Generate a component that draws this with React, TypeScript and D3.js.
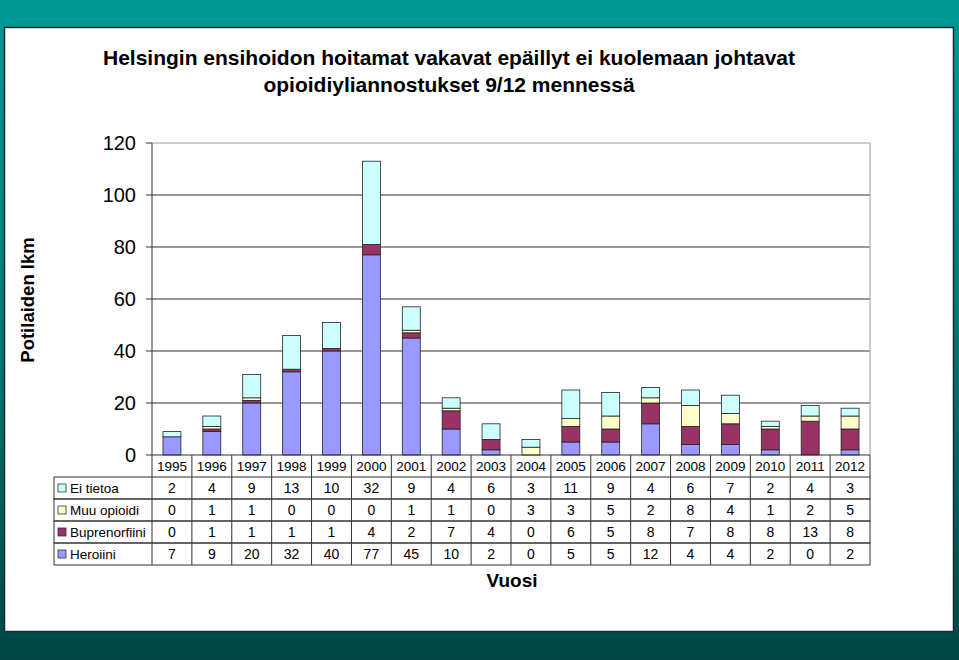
import React from "react";
import * as d3 from "d3";

const years = ["1995","1996","1997","1998","1999","2000","2001","2002","2003","2004","2005","2006","2007","2008","2009","2010","2011","2012"];
const heroiini = [7,9,20,32,40,77,45,10,2,0,5,5,12,4,4,2,0,2];
const buprenorfiini = [0,1,1,1,1,4,2,7,4,0,6,5,8,7,8,8,13,8];
const muuOpioidi = [0,1,1,0,0,0,1,1,0,3,3,5,2,8,4,1,2,5];
const eiTietoa = [2,4,9,13,10,32,9,4,6,3,11,9,4,6,7,2,4,3];
const yTicks = [0,20,40,60,80,100,120];

const seriesKeys = ["Heroiini","Buprenorfiini","Muu opioidi","Ei tietoa"];
const seriesValues: Record<string, number[]> = {
  "Heroiini": heroiini,
  "Buprenorfiini": buprenorfiini,
  "Muu opioidi": muuOpioidi,
  "Ei tietoa": eiTietoa,
};
const colors: Record<string, string> = {
  "Heroiini": "#9999ff",
  "Buprenorfiini": "#993366",
  "Muu opioidi": "#ffffcc",
  "Ei tietoa": "#ccffff",
};
const tableOrder = ["Ei tietoa","Muu opioidi","Buprenorfiini","Heroiini"];

export default function App() {
  const W = 959, H = 660;
  const left = 152, right = 870, top = 143, bottom = 455;
  const x = d3.scaleBand<string>().domain(years).range([left, right]).padding(0);
  const y = d3.scaleLinear().domain([0, 120]).range([bottom, top]);
  const rows = years.map((yr, i) => {
    const r: any = { year: yr };
    seriesKeys.forEach(k => (r[k] = seriesValues[k][i]));
    return r;
  });
  const stacked = d3.stack<any>().keys(seriesKeys)(rows);
  const bw = x.bandwidth() * 0.45;
  const font = "Liberation Sans, Arial, sans-serif";
  const rowH = 22;
  const headerTop = bottom;
  const tableTop = bottom + rowH;
  const tableLeft = 54;

  return (
    <div style={{ position: "absolute", left: 0, top: 0 }}>
      <svg width={W} height={H} style={{ display: "block" }} fontFamily={font}>
        <defs>
          <linearGradient id="bg" x1="0" y1="0" x2="0" y2="1">
            <stop offset="0" stopColor="#009a96" />
            <stop offset="0.5" stopColor="#007a77" />
            <stop offset="1" stopColor="#004646" />
          </linearGradient>
        </defs>
        <rect x={0} y={0} width={W} height={H} fill="url(#bg)" />
        <rect x={4.5} y={27.5} width={949} height={604} fill="#ffffff" stroke="#1a2a2a" strokeWidth={1.5} />

        <text x={449} y={65} textAnchor="middle" fontSize={21} fontWeight="bold">Helsingin ensihoidon hoitamat vakavat epäillyt ei kuolemaan johtavat</text>
        <text x={449} y={92} textAnchor="middle" fontSize={21} fontWeight="bold">opioidiyliannostukset 9/12 mennessä</text>

        {/* gridlines */}
        {yTicks.filter(t => t > 0).map(t => (
          <line key={t} x1={left} x2={right} y1={y(t)} y2={y(t)} stroke={t === 120 ? "#999" : "#333"} strokeWidth={1} />
        ))}
        <line x1={right} x2={right} y1={top} y2={bottom} stroke="#999" />

        {/* bars */}
        {stacked.map(s => (
          <g key={s.key}>
            {s.map((d, i) => {
              const h = y(d[0]) - y(d[1]);
              if (h <= 0) return null;
              return (
                <rect key={i} x={(x(years[i]) as number) + (x.bandwidth() - bw) / 2} y={y(d[1])} width={bw} height={h}
                  fill={colors[s.key]} stroke="#222" strokeWidth={0.8} />
              );
            })}
          </g>
        ))}

        {/* y axis */}
        <line x1={left} x2={left} y1={top} y2={bottom} stroke="#333" />
        <line x1={left} x2={right} y1={bottom} y2={bottom} stroke="#333" />
        {yTicks.map(t => (
          <g key={t}>
            <line x1={left - 6} x2={left} y1={y(t)} y2={y(t)} stroke="#333" />
            <text x={left - 16} y={y(t) + 7} textAnchor="end" fontSize={20}>{t}</text>
          </g>
        ))}
        <text transform={`translate(34,300) rotate(-90)`} textAnchor="middle" fontSize={18.5} fontWeight="bold">Potilaiden lkm</text>

        {/* table header (years) */}
        {years.map((yr, i) => (
          <g key={yr}>
            <line x1={x(yr) as number} x2={x(yr) as number} y1={headerTop} y2={tableTop} stroke="#333" />
            <text x={(x(yr) as number) + x.bandwidth() / 2} y={headerTop + 16} textAnchor="middle" fontSize={13.5}>{yr}</text>
          </g>
        ))}
        <line x1={right} x2={right} y1={headerTop} y2={tableTop} stroke="#333" />

        {/* table body */}
        {tableOrder.map((k, r) => {
          const ry = tableTop + r * rowH;
          return (
            <g key={k}>
              <rect x={tableLeft} y={ry} width={right - tableLeft} height={rowH} fill="none" stroke="#333" />
              <rect x={tableLeft + 4} y={ry + 7} width={8} height={8} fill={colors[k]} stroke="#333" strokeWidth={0.8} />
              <text x={tableLeft + 16} y={ry + 16} fontSize={13.5}>{k}</text>
              {years.map((yr, i) => (
                <text key={yr} x={(x(yr) as number) + x.bandwidth() / 2} y={ry + 16} textAnchor="middle" fontSize={14}>{seriesValues[k][i]}</text>
              ))}
            </g>
          );
        })}
        {years.map(yr => (
          <line key={yr} x1={x(yr) as number} x2={x(yr) as number} y1={tableTop} y2={tableTop + 4 * rowH} stroke="#333" />
        ))}

        <text x={512} y={587} textAnchor="middle" fontSize={19} fontWeight="bold">Vuosi</text>
      </svg>
    </div>
  );
}
